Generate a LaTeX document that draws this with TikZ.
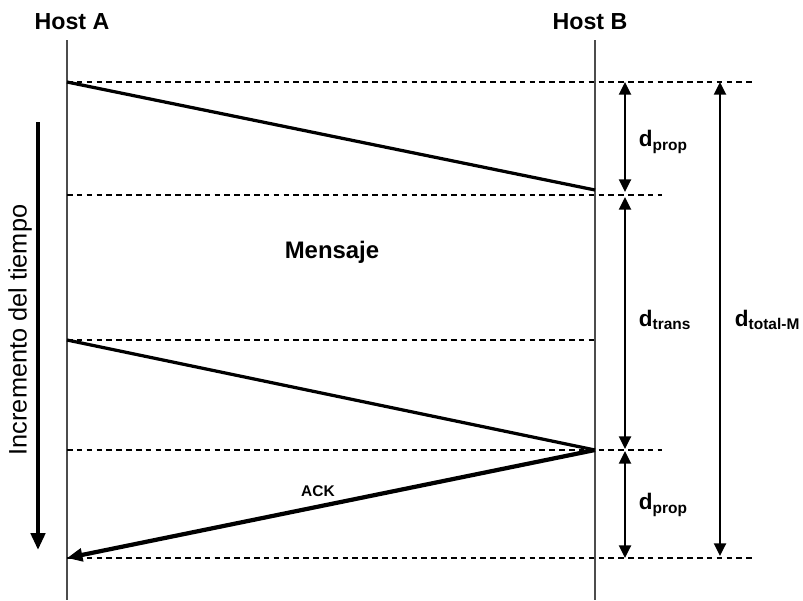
\documentclass[tikz,border=0pt]{standalone}
\usepackage{fontspec}
\setmainfont{Liberation Sans}
\usetikzlibrary{arrows.meta}

\tikzset{
    hostline/.style={line width=0.8pt, black!70},
    timeline/.style={dashed, line width=1.2pt, dash pattern=on 4pt off 3pt},
    msgline/.style={line width=2.3pt},
    dimarrow/.style={line width=1.7pt, {Triangle[length=9pt, width=8.5pt]}-{Triangle[length=9pt, width=8.5pt]}},
    dimlabel/.style={font=\fontsize{16}{18}\selectfont\bfseries, anchor=west}
}

\begin{document}
\begin{tikzpicture}[x=0.025cm, y=-0.025cm]
    \useasboundingbox (0, 0) rectangle (803, 600);

    % Hosts
    \node[font=\fontsize{16.5}{18}\selectfont\bfseries] (hostA) at (72, 22) {Host A};
    \node[font=\fontsize{16.5}{18}\selectfont\bfseries] (hostB) at (590, 22) {Host B};
    \coordinate (topA) at (67, 40);
    \coordinate (botA) at (67, 600);
    \coordinate (topB) at (595, 40);
    \coordinate (botB) at (595, 600);
    \draw[hostline] (topA) -- (botA);
    \draw[hostline] (topB) -- (botB);

    % Time points
    \coordinate (a1) at (67, 82);
    \coordinate (b1) at (595, 190);
    \coordinate (a2) at (67, 195);
    \coordinate (a3) at (67, 340);
    \coordinate (b3) at (595, 450);
    \coordinate (a4) at (67, 558);

    % Dashed levels
    \coordinate (e1) at (755, 82);
    \coordinate (e2) at (662, 195);
    \coordinate (e3) at (595, 340);
    \coordinate (e4) at (662, 450);
    \coordinate (e5) at (755, 558);
    \draw[timeline] (a1) -- (e1);
    \draw[timeline] (a2) -- (e2);
    \draw[timeline] (a3) -- (e3);
    \draw[timeline] (67, 450) -- (e4);
    \draw[timeline] (a4) -- (e5);

    % Messages
    \draw[msgline] (a1) -- (b1);
    \draw[msgline] (a3) -- (b3);
    \draw[line width=3pt, -{Triangle[length=11pt, width=9pt]}] (b3) -- (a4);
    \node[font=\fontsize{11}{12}\selectfont\bfseries] (ack) at (318, 491) {ACK};
    \node[font=\fontsize{17}{19}\selectfont\bfseries] (msg) at (332, 252) {Mensaje};

    % Delays
    \coordinate (d1t) at (625, 82);
    \coordinate (d1b) at (625, 192);
    \coordinate (d2t) at (625, 197);
    \coordinate (d2b) at (625, 449);
    \coordinate (d3t) at (625, 451);
    \coordinate (d3b) at (625, 558);
    \coordinate (dtt) at (720, 82);
    \coordinate (dtb) at (720, 556);
    \draw[dimarrow] (d1t) -- (d1b);
    \draw[dimarrow] (d2t) -- (d2b);
    \draw[dimarrow] (d3t) -- (d3b);
    \draw[dimarrow] (dtt) -- (dtb);
    \node[dimlabel] (lprop1) at (634, 142) {d\textsubscript{\fontsize{11}{12}\selectfont prop}};
    \node[dimlabel] (ltrans) at (634, 320) {d\textsubscript{\fontsize{11}{12}\selectfont trans}};
    \node[dimlabel] (lprop2) at (634, 505) {d\textsubscript{\fontsize{11}{12}\selectfont prop}};
    \node[dimlabel] (ltotal) at (730, 320) {d\textsubscript{\fontsize{11}{12}\selectfont total-M}};

    % Time axis
    \coordinate (tt) at (38, 122);
    \coordinate (tb) at (38, 550);
    \draw[line width=3pt, -{Triangle[length=12pt, width=10pt]}] (tt) -- (tb);
    \node[rotate=90, font=\fontsize{18}{20}\selectfont] (incr) at (20, 330) {Incremento del tiempo};

\end{tikzpicture}
\end{document}
